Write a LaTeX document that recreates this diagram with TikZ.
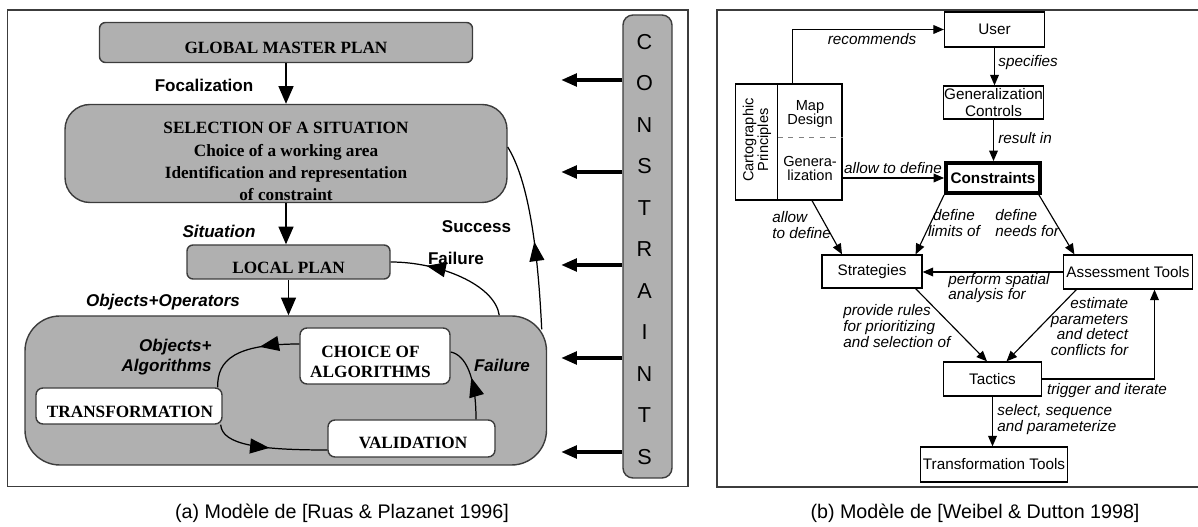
\documentclass[tikz,border=0pt]{standalone}
\usepackage{fontspec}
\setmainfont{Liberation Serif}
\setsansfont{Liberation Sans}
\usetikzlibrary{arrows.meta,decorations.markings}
\definecolor{boxgray}{RGB}{176,176,176}
\definecolor{edgegray}{RGB}{60,60,60}

\begin{document}
\begin{tikzpicture}[align=center,
    panelframe/.style={draw=edgegray, line width=0.6pt},
    planbox/.style={draw=edgegray, line width=0.8pt, fill=boxgray, rounded corners=0.12cm, inner sep=0pt},
    whitebox/.style={draw=edgegray, line width=0.8pt, fill=white, rounded corners=0.14cm, inner sep=0pt},
    plantext/.style={font=\fontsize{9.8}{12.6}\selectfont\bfseries, inner sep=0pt},
    biglabel/.style={font=\fontsize{9.7}{11.4}\selectfont\sffamily\bfseries},
    italiclabel/.style={font=\fontsize{9.7}{11.4}\selectfont\sffamily\bfseries\itshape},
    columnletter/.style={font=\fontsize{12.3}{14}\selectfont\sffamily, inner sep=0pt},
    toolbox/.style={draw, line width=0.7pt, inner sep=0pt, font=\fontsize{8.7}{9.7}\selectfont\sffamily},
    cartfont/.style={font=\fontsize{8.3}{8.4}\selectfont\sffamily, inner sep=0pt},
    smalllabel/.style={font=\fontsize{8.7}{8.9}\selectfont\sffamily\itshape, inner sep=0pt},
    caption/.style={font=\fontsize{11.2}{13}\selectfont\sffamily},
    bigtip/.style={-{Triangle[length=10pt,width=8.5pt]}, line width=0.7pt},
    smalltip/.style={-{Triangle[length=6pt,width=5pt]}, line width=0.65pt},
    midarrow/.style={line width=0.7pt, postaction={decorate, decoration={markings,
        mark=at position #1 with {\arrow{Triangle[length=11pt,width=8.5pt]}}}}},
    constarrow/.style={-{Triangle[length=9pt,width=7pt]}, line width=2.3pt}]
  \useasboundingbox (0,0) rectangle (23.96,10.54);

  \draw[panelframe] (0.15,0.81) rectangle (13.76,10.34);
  \node[planbox, minimum width=7.46cm, minimum height=0.8cm] (global) at (5.72,9.69) {};
  \node[plantext] (globaltext) at (5.72,9.58) {GLOBAL MASTER PLAN};
  \node[planbox, rounded corners=0.5cm, minimum width=8.84cm, minimum height=1.96cm] (selection) at (5.72,7.47) {};
  \node[plantext] (selectiontext) at (5.72,7.31) {SELECTION OF A SITUATION\\Choice of a working area\\Identification and representation\\of constraint};
  \node[planbox, minimum width=4.06cm, minimum height=0.68cm] (local) at (5.77,5.30) {};
  \node[plantext] (localtext) at (5.77,5.18) {LOCAL PLAN};
  \node[planbox, rounded corners=0.7cm, minimum width=10.43cm, minimum height=2.98cm] (loop) at (5.715,2.73) {};
  \node[whitebox, minimum width=3cm, minimum height=1.12cm] (choice) at (7.5,3.42) {};
  \node[plantext, font=\fontsize{9.8}{11.4}\selectfont\bfseries] (choicetext) at (7.41,3.30) {CHOICE OF\\ALGORITHMS};
  \node[whitebox, minimum width=3.72cm, minimum height=0.72cm] (transformation) at (2.58,2.42) {};
  \node[plantext] (transformationtext) at (2.60,2.30) {TRANSFORMATION};
  \node[whitebox, minimum width=3.34cm, minimum height=0.74cm] (validation) at (8.23,1.77) {};
  \node[plantext] (validationtext) at (8.26,1.68) {VALIDATION};
  \node[planbox, rounded corners=0.2cm, minimum width=0.98cm, minimum height=9.26cm] (column) at (12.95,5.61) {};
  \foreach \letter [count=\i] in {C,O,N,S,T,R,A,I,N,T,S}
    \node[columnletter] (letter\i) at (12.89,{9.70-0.83*(\i-1)}) {\letter};
  \foreach \y [count=\i] in {8.94,7.10,5.24,3.38,1.50} {
    \coordinate (from\i) at (column.west |- 0,\y);
    \coordinate (to\i) at (11.22,\y);
    \draw[constarrow] (from\i) -- (to\i);
  }
  \draw[bigtip] (global.south) -- (selection.north);
  \draw[bigtip] (selection.south) -- (selection.south |- local.north);
  \draw[bigtip] (local.south) -- (local.south |- loop.north);
  \draw[midarrow=0.47] ([shift={(-0.11,-0.28)}]loop.north east) .. controls (10.74,5.94) and (10.5,7.04) .. ([yshift=0.13cm]selection.east);
  \draw[midarrow=0.72] ([xshift=4.27cm]loop.north) .. controls (9.9,4.84) and (8.8,5.3) .. (local.east);
  \draw[midarrow=0.55] ([xshift=1.29cm]validation.north) .. controls (9.52,3.04) and (9.3,3.44) .. ([yshift=0.08cm]choice.east);
  \draw[midarrow=0.38] ([yshift=0.24cm]choice.west) .. controls (4.7,3.66) and (4.34,3.34) .. ([xshift=-0.1cm]transformation.north east);
  \draw[midarrow=0.5] ([xshift=-0.04cm]transformation.south east) .. controls (4.44,1.64) and (5.2,1.54) .. ([yshift=-0.23cm]validation.west);
  \node[biglabel] (focalization) at (4.08,8.84) {Focalization};
  \node[italiclabel] (situation) at (4.38,5.92) {Situation};
  \node[italiclabel] (objectsoperators) at (3.26,4.50) {Objects+Operators};
  \node[biglabel] (success) at (9.53,6.0) {Success};
  \node[biglabel] (failureout) at (9.12,5.38) {Failure};
  \node[italiclabel, anchor=east, align=right, inner sep=0pt] (objectsalgorithms) at (4.24,3.40) {Objects+\\Algorithms};
  \node[italiclabel] (failurein) at (10.04,3.24) {Failure};

  \draw[panelframe] (23.96,10.34) -| (14.34,0.80) -- (23.96,0.80);
  \node[toolbox, minimum width=2cm, minimum height=0.7cm] (user) at (19.89,9.95) {User};
  \node[toolbox, minimum width=2cm, minimum height=0.66cm] (controls) at (19.87,8.49) {Generalization\\Controls};
  \node[toolbox, line width=2.2pt, minimum width=1.88cm, minimum height=0.6cm, font=\fontsize{8.7}{9.7}\selectfont\sffamily\bfseries] (constraints) at (19.86,6.98) {Constraints};
  \node[toolbox, minimum width=2.13cm, minimum height=2.32cm] (principles) at (15.775,7.70) {};
  \coordinate (split) at (15.55,7.79);
  \draw[line width=0.7pt] (split |- principles.north) -- (split |- principles.south);
  \draw[dashed, gray, line width=0.6pt] (split) -- (split -| principles.east);
  \node[cartfont, rotate=90] (cartographic) at (15.14,7.74) {Cartographic\\Principles};
  \node[cartfont] (mapdesign) at (16.2,8.26) {Map\\Design};
  \node[cartfont] (generalization) at (16.2,7.17) {Genera-\\lization};
  \node[toolbox, minimum width=2cm, minimum height=0.66cm] (strategies) at (17.44,5.11) {Strategies};
  \node[toolbox, minimum width=2.57cm, minimum height=0.68cm] (assessment) at (22.56,5.10) {Assessment Tools};
  \node[toolbox, minimum width=1.97cm, minimum height=0.68cm] (tactics) at (19.85,2.96) {Tactics};
  \node[toolbox, minimum width=2.94cm, minimum height=0.7cm] (transformtools) at (19.88,1.25) {Transformation Tools};
  \draw[smalltip] ([xshift=0.08cm]principles.north) |- (user.west);
  \node[smalllabel] (recommends) at (17.44,9.76) {recommends};
  \draw[smalltip] (user.south) -- (user.south |- controls.north);
  \node[smalllabel, anchor=west] (specifies) at (19.96,9.28) {specifies};
  \draw[smalltip] (controls.south) -- (controls.south |- constraints.north);
  \node[smalllabel, anchor=west] (resultin) at (19.96,7.78) {result in};
  \draw[smalltip] (principles.east |- constraints.west) -- (constraints.west);
  \node[smalllabel] (allowdefine) at (17.86,7.17) {allow to define};
  \draw[smalltip] ([xshift=0.465cm]principles.south) -- ([xshift=-0.6cm]strategies.north);
  \node[smalllabel, anchor=west, align=left] (allowdefinetwo) at (15.44,6.04) {allow\\to define};
  \draw[smalltip] (constraints.south west) -- ([xshift=-0.14cm]strategies.north east);
  \node[smalllabel] (limits) at (19.08,6.08) {define\\limits of};
  \draw[smalltip] ([xshift=-0.06cm]constraints.south east) -- ([xshift=0.225cm]assessment.north west);
  \node[smalllabel, anchor=west, align=left] (needs) at (19.9,6.08) {define\\needs for};
  \draw[smalltip] (assessment.west) -- (assessment.west -| strategies.east);
  \node[smalllabel, anchor=west, align=left] (spatial) at (18.96,4.78) {perform spatial\\analysis for};
  \draw[smalltip] ([xshift=-0.14cm]strategies.south east) -- ([xshift=-0.11cm]tactics.north);
  \node[smalllabel, anchor=west, align=left] (rules) at (16.86,4.02) {provide rules\\for prioritizing\\and selection of};
  \draw[smalltip] ([xshift=0.265cm]assessment.south west) -- ([xshift=0.28cm]tactics.north);
  \node[smalllabel, anchor=east, align=right] (estimate) at (22.57,4.01) {estimate\\parameters\\and detect\\conflicts for};
  \draw[smalltip] (tactics.east) -| ([xshift=0.53cm]assessment.south);
  \node[smalllabel] (iterate) at (22.14,2.72) {trigger and iterate};
  \draw[smalltip] (tactics.south) -- (tactics.south |- transformtools.north);
  \node[smalllabel, anchor=west, align=left] (sequence) at (19.94,2.15) {select, sequence\\and parameterize};

  \node[caption] (captiona) at (6.84,0.28) {(a) Modèle de [Ruas \& Plazanet 1996]};
  \node[caption] (captionb) at (19.5,0.28) {(b) Modèle de [Weibel \& Dutton 1998]};
\end{tikzpicture}
\end{document}
